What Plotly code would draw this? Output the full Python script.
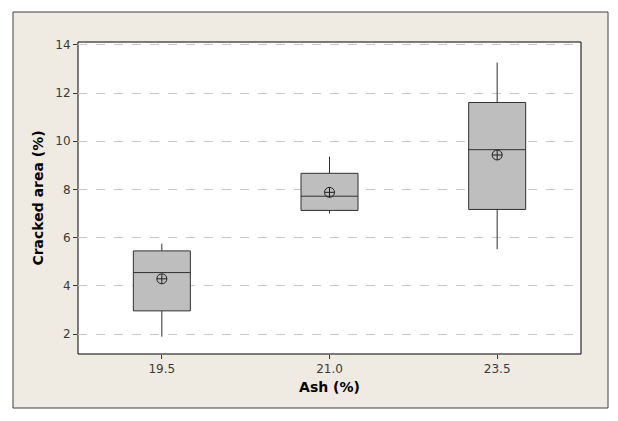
import plotly.graph_objects as go

ash = ["19.5", "21.0", "23.5"]
lower = [1.89, 7.00, 5.52]
q1 = [2.96, 7.13, 7.17]
median = [4.55, 7.72, 9.65]
q3 = [5.45, 8.67, 11.61]
upper = [5.75, 9.36, 13.27]
means = [4.29, 7.88, 9.43]
yticks = [2, 4, 6, 8, 10, 12, 14]

fig = go.Figure()
fig.add_trace(go.Box(
    x=ash, q1=q1, median=median, q3=q3, lowerfence=lower, upperfence=upper,
    fillcolor="#BEBEBE", line=dict(color="#303030", width=1),
    whiskerwidth=0, width=0.34, boxpoints=False, showlegend=False,
    hoverinfo="skip"))
fig.add_trace(go.Scatter(
    x=ash, y=means, mode="markers", showlegend=False, hoverinfo="skip",
    marker=dict(symbol="circle-cross-open", size=10, color="#202020",
                line=dict(width=1, color="#202020"))))

L, R, T, B = 78, 37, 42, 67
W, H = 618, 421
pw, ph = W - L - R, H - T - B

def px2x(p):
    return (p - L) / pw

def px2y(p):
    return (H - B - p) / ph

fig.add_shape(type="rect", xref="paper", yref="paper", layer="below",
              x0=px2x(13), x1=px2x(608), y0=px2y(408), y1=px2y(12),
              fillcolor="#EFEBE2", line=dict(color="#404040", width=1))
fig.add_shape(type="rect", xref="paper", yref="paper", layer="below",
              x0=0, x1=1, y0=0, y1=1,
              fillcolor="white", line=dict(color="black", width=1))

font = "DejaVu Sans, Arial, sans-serif"
fig.update_layout(
    width=W, height=H,
    margin=dict(l=L, r=R, t=T, b=B, pad=0),
    paper_bgcolor="white", plot_bgcolor="white",
    font=dict(family=font, size=12, color="#3a3a3a"),
    xaxis=dict(type="category", range=[-0.5, 2.5], showgrid=False,
               ticks="outside", ticklen=4, tickcolor="#333333",
               showline=False, zeroline=False,
               title=dict(text="<b>Ash (%)</b>", standoff=6,
                          font=dict(size=14, color="black"))),
    yaxis=dict(range=[1.17, 14.12], tickvals=yticks, showgrid=True,
               gridcolor="#C8C8C8", griddash="dash", gridwidth=1,
               ticks="outside", ticklen=4, tickcolor="#333333",
               showline=False, zeroline=False,
               title=dict(text="<b>Cracked area (%)</b>", standoff=8,
                          font=dict(size=14, color="black"))),
)

fig.write_html("out.html", config={"displayModeBar": False},
               post_script="document.body.style.margin='0';document.body.style.overflow='hidden';")
